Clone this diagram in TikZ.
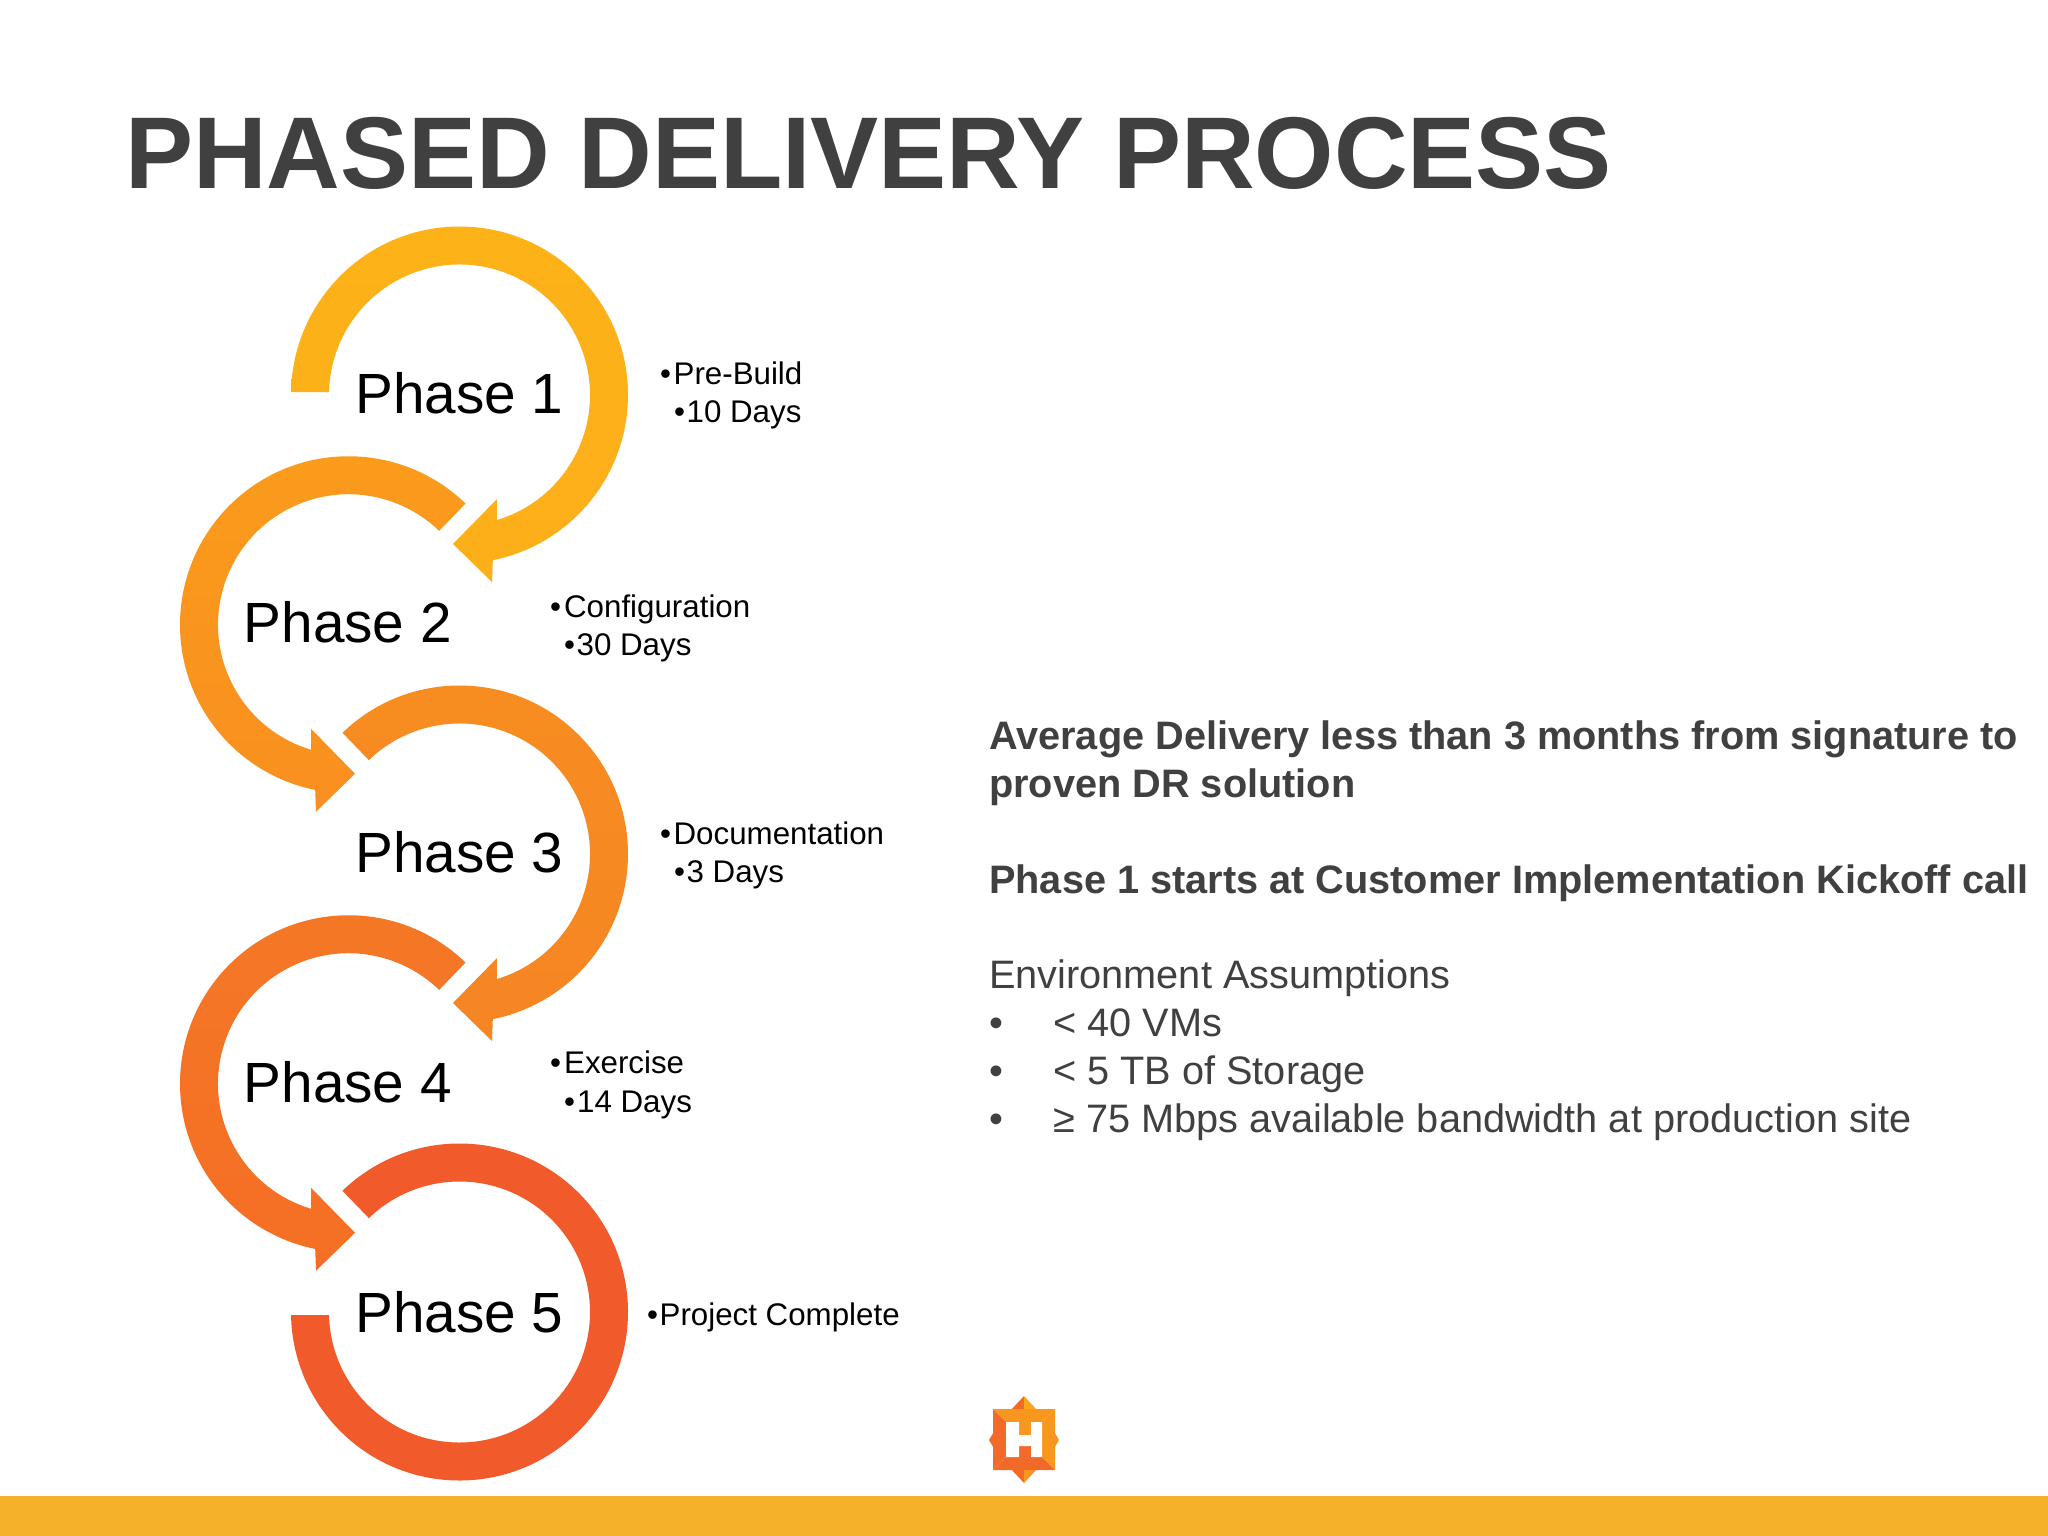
\documentclass[tikz,border=0pt]{standalone}
\usepackage{fontspec}
\setmainfont{Liberation Sans}
\definecolor{txt}{HTML}{404040}
\definecolor{band}{HTML}{F6B12A}
\definecolor{logoA}{HTML}{F26A2A}
\definecolor{logoB}{HTML}{F8961E}
\definecolor{logoC}{HTML}{FAA61A}
\definecolor{ra}{HTML}{FDB218}
\definecolor{rb}{HTML}{FDAF19}
\definecolor{rc}{HTML}{FA9C1B}
\definecolor{rd}{HTML}{F98F20}
\definecolor{re}{HTML}{F78D21}
\definecolor{rf}{HTML}{F68523}
\definecolor{rg}{HTML}{F47826}
\definecolor{rh}{HTML}{F56E25}
\definecolor{ri}{HTML}{F15A2A}
% cx, cy, outer start angle, inner start angle, top colour, bottom colour
\newcommand{\rightring}[6]{%
 \begin{scope}[shift={(#1,#2)}]
 \path[top color=#5,bottom color=#6,draw=none] (#3:168.5) arc[start angle=#3,end angle=438.6,radius=168.5]
  -- (32.5,187) -- (-6.5,149) -- (37.5,104) -- (433.4:130.5)
  arc[start angle=433.4,end angle=#4,radius=130.5] -- cycle;
 \end{scope}}
\newcommand{\leftring}[4]{%
 \begin{scope}[shift={(#1,#2)}]
 \path[top color=#3,bottom color=#4,draw=none] (314:168.5) arc[start angle=314,end angle=101.4,radius=168.5]
  -- (-32.5,187) -- (6.5,149) -- (-37.5,104) -- (106.6:130.5)
  arc[start angle=106.6,end angle=314,radius=130.5] -- cycle;
 \end{scope}}
\tikzset{
 x=1pt,y=-1pt,
 phase/.style={anchor=base west,inner sep=0pt,font=\fontsize{56.7}{60}\selectfont,text=black},
 note/.style={anchor=base west,inner sep=0pt,font=\fontsize{31.3}{36}\selectfont,text=black},
 body/.style={anchor=base west,inner sep=0pt,font=\fontsize{39.7}{44}\selectfont,text=txt},
 bodyb/.style={anchor=base west,inner sep=0pt,font=\fontsize{39.7}{44}\selectfont\bfseries,text=txt},
}
\begin{document}
\begin{tikzpicture}
\useasboundingbox (0,0) rectangle (2048,1536);
\fill[white] (0,0) rectangle (2048,1536);
\fill[band] (0,1496) rectangle (2048,1536);
\node[anchor=base west,inner sep=0pt,font=\fontsize{102}{108}\selectfont\bfseries,text=txt] (title) at (125,189) {PHASED DELIVERY PROCESS};
% rings
\rightring{459.5}{395}{181.02}{181.32}{ra}{rb}
\leftring{348.5}{624.75}{rc}{rd}
\rightring{459.5}{854}{226}{226}{re}{rf}
\leftring{348.5}{1083.75}{rg}{rh}
\begin{scope}[shift={(459.5,1312)}]
 \path[fill=ri] (226:168.5) arc[start angle=226,end angle=538.98,radius=168.5]
  -- (538.68:130.5) arc[start angle=538.68,end angle=226,radius=130.5] -- cycle;
\end{scope}
% phase labels
\node[phase] (p1) at (355,413) {Phase 1};
\node[phase] (p2) at (243.5,642.5) {Phase 2};
\node[phase] (p3) at (355,872) {Phase 3};
\node[phase] (p4) at (243.5,1102) {Phase 4};
\node[phase] (p5) at (355,1332) {Phase 5};
% notes
\node[note] (n1a) at (660,384) {•\kern2.5pt Pre-Build};
\node[note] (n1b) at (674,422) {•\kern1.5pt 10 Days};
\node[note] (n2a) at (550,617) {•\kern3pt Configuration};
\node[note] (n2b) at (564,655) {•\kern1.5pt 30 Days};
\node[note] (n3a) at (660,844) {•\kern2.5pt Documentation};
\node[note] (n3b) at (674,882) {•\kern1.5pt 3 Days};
\node[note] (n4a) at (550,1073) {•\kern3pt Exercise};
\node[note] (n4b) at (564,1112) {•\kern2pt 14 Days};
\node[note] (n5a) at (647,1325) {•\kern1.5pt Project Complete};
% right text
\node[bodyb] (t1) at (989,749.5) {Average Delivery less than 3 months from signature to};
\node[bodyb] (t2) at (989,797) {proven DR solution};
\node[bodyb] (t3) at (989,893) {Phase 1 starts at Customer Implementation Kickoff call};
\node[body] (t4) at (989,988) {Environment Assumptions};
\node[body] (b1) at (989,1036) {•};
\node[body] (t5) at (1053,1036) {< 40 VMs};
\node[body] (b2) at (989,1084) {•};
\node[body] (t6) at (1053,1084) {< 5 TB of Storage};
\node[body] (b3) at (989,1132) {•};
\node[body] (t7) at (1053,1132) {≥ 75 Mbps available bandwidth at production site};
% logo
\fill[logoA] (1024,1396) -- (1010,1411) -- (1024,1411) -- cycle;
\fill[logoC] (1024,1396) -- (1038,1411) -- (1024,1411) -- cycle;
\fill[logoA] (1024,1483) -- (1010,1468) -- (1024,1468) -- cycle;
\fill[logoB] (1024,1483) -- (1038,1468) -- (1024,1468) -- cycle;
\fill[logoA] (989,1440) -- (995,1430) -- (995,1450) -- cycle;
\fill[logoB] (1059,1440) -- (1053,1430) -- (1053,1450) -- cycle;
\fill[logoB] (993,1409) -- (1055,1409) -- (1042,1422) -- (1031,1435) -- (1019,1435) -- (1006,1422) -- cycle;
\fill[logoB] (1055,1409) -- (1055,1470) -- (1042,1457) -- (1042,1422) -- cycle;
\fill[logoA] (993,1409) -- (993,1470) -- (1006,1457) -- (1006,1422) -- cycle;
\fill[logoA] (993,1470) -- (1055,1470) -- (1042,1457) -- (1031,1446) -- (1019,1446) -- (1006,1457) -- cycle;
\fill[logoB] (1019,1422) rectangle (1031,1435);
\fill[logoA] (1019,1446) rectangle (1031,1457);
\fill[white] (1006,1422) -- (1019,1422) -- (1019,1435) -- (1031,1435) -- (1031,1422) -- (1042,1422)
  -- (1042,1457) -- (1031,1457) -- (1031,1446) -- (1019,1446) -- (1019,1457) -- (1006,1457) -- cycle;
\end{tikzpicture}
\end{document}
